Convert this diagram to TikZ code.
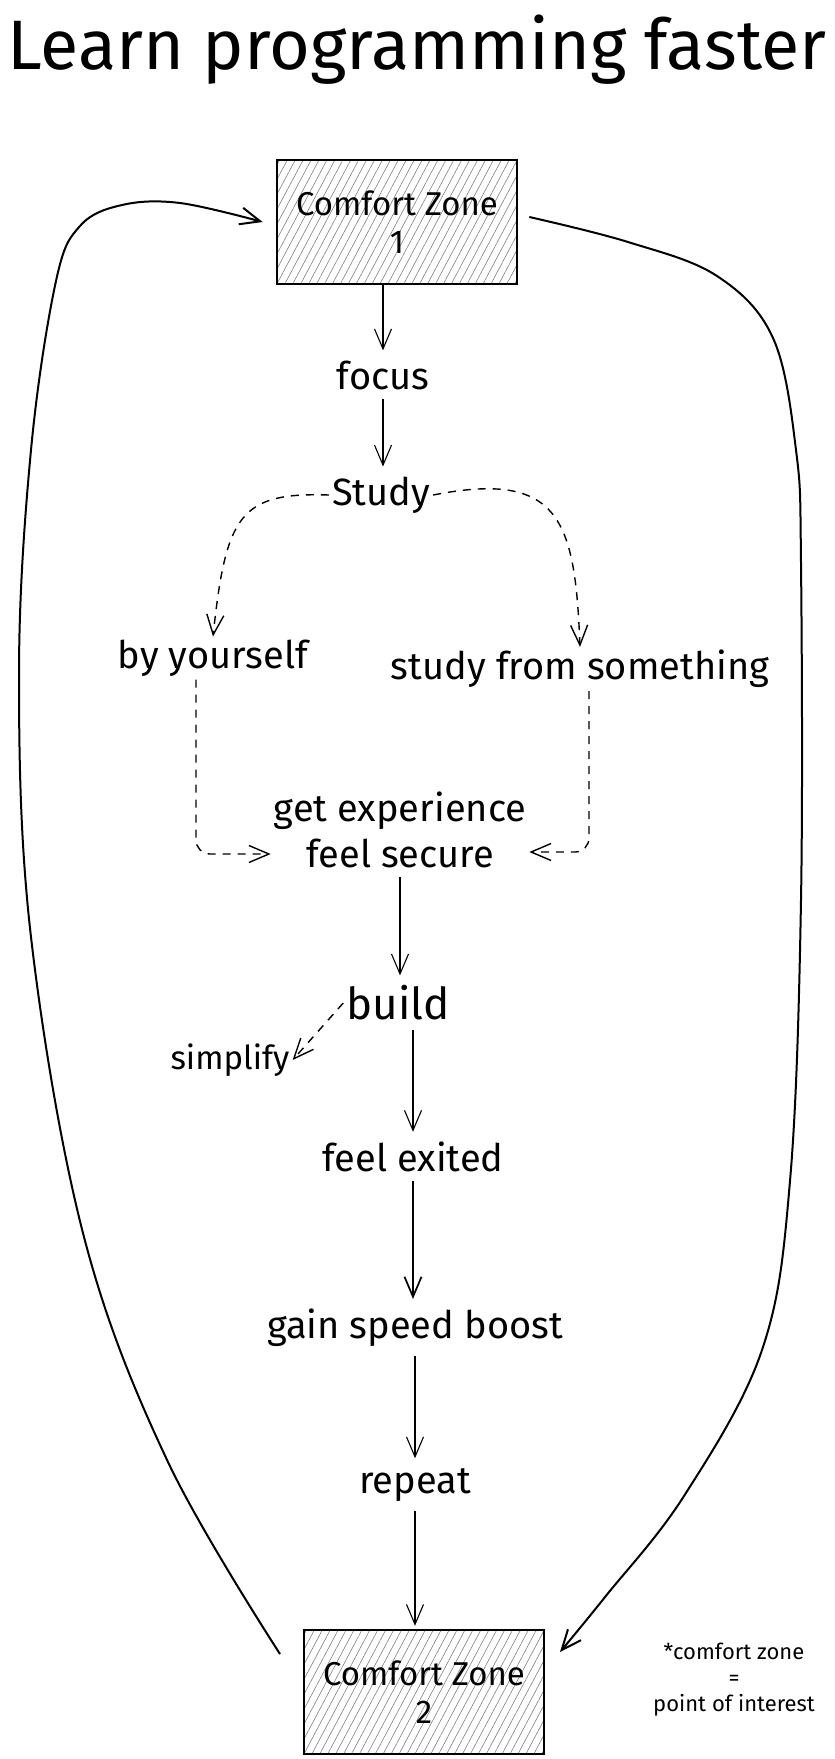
\documentclass[tikz,border=0pt]{standalone}
\usepackage{fontspec}
\setmainfont{Fira Sans}
\usetikzlibrary{arrows.meta,patterns.meta}

\tikzset{
    lbl/.style={font=\fontsize{38}{46}\selectfont, inner sep=3pt},
    zone/.style={draw, line width=2.4pt, minimum width=240pt, minimum height=124pt, align=center,
        font=\fontsize{33}{38}\selectfont,
        pattern={Lines[angle=62, distance=7pt, line width=0.6pt]}, pattern color=gray},
    arrow/.style={-{Straight Barb[length=20pt, width=17pt]}, line width=1.1pt},
    gap/.style={shorten <=6pt, shorten >=7pt},
    dasharrow/.style={arrow, line width=1.4pt, dash pattern=on 8pt off 7pt},
    loopline/.style={arrow, line width=2pt},
}

\begin{document}
\begin{tikzpicture}[x=1pt, y=-1pt]
    \useasboundingbox (0, 0) rectangle (835, 1759);
    \node[font=\fontsize{70}{74}\selectfont] (title) at (417, 50) {Learn programming faster};
    \node[zone] (box1) at (397, 222) {Comfort Zone\\1};
    \node[lbl] (focus) at (383, 375) {focus};
    \node[lbl] (study) at (381, 495) {Study};
    \node[lbl] (byself) at (213, 658) {by yourself};
    \node[lbl] (sfs) at (580, 669) {study from something};
    \node[lbl, align=center] (gexp) at (400, 830) {get experience\\feel secure};
    \node[lbl, font=\fontsize{44}{50}\selectfont] (build) at (398, 1003) {build};
    \node[lbl, font=\fontsize{33}{38}\selectfont] (simplify) at (230, 1060) {simplify};
    \node[lbl] (exited) at (413, 1157) {feel exited};
    \node[lbl] (boost) at (415, 1328) {gain speed boost};
    \node[lbl] (repeat) at (415, 1485) {repeat};
    \node[zone] (box2) at (424, 1692) {Comfort Zone\\2};
    \node[font=\fontsize{22}{26}\selectfont, align=center] (note) at (734, 1680) {*comfort zone\\=\\point of interest};

    \foreach \a/\b in {focus/study, gexp/build, boost/repeat} {
        \draw[arrow, gap] (\a.south) -- (\a.south |- \b.north);
    }
    \draw[arrow, shorten <=6pt, shorten >=3pt] (repeat.south) -- (repeat.south |- box2.north);
    \draw[arrow, shorten >=7pt] (box1.south -| focus.north) -- (focus.north);
    \draw[arrow, gap] (build.south -| exited.north) -- (exited.north);
    \draw[arrow, gap, line width=1.7pt] (exited.south) -- (exited.south |- boost.north);

    \draw[dasharrow] (study.west) .. controls (240, 492) and (226, 515) .. (byself.north);
    \draw[dasharrow] (study.east) .. controls (560, 470) and (575, 520) .. (sfs.north);
    \draw[dasharrow, rounded corners=14pt] ([xshift=-17pt]byself.south) |- ([yshift=-24pt]gexp.west);
    \draw[dasharrow, rounded corners=14pt] ([xshift=9pt]sfs.south) |- ([yshift=-22pt]gexp.east);
    \draw[dasharrow] (build.west) -- (simplify.east);

    \coordinate (loopL) at (280, 1654);
    \coordinate (loopR) at (560, 1652);
    \draw[loopline] plot[smooth, tension=0.6] coordinates {(loopL) (168, 1462) (84, 1237) (31, 937) (19, 675) (31, 450) (56, 281) (80, 226) (122, 205) (180, 203) ([xshift=-14pt]box1.west)};
    \draw[loopline] plot[smooth, tension=0.6] coordinates {([xshift=12pt, yshift=5pt]box1.east) (628, 242) (717, 276) (773, 338) (796, 450) (801, 563) (801, 900) (790, 1181) (762, 1350) (684, 1496) (605, 1597) (loopR)};
\end{tikzpicture}
\end{document}
